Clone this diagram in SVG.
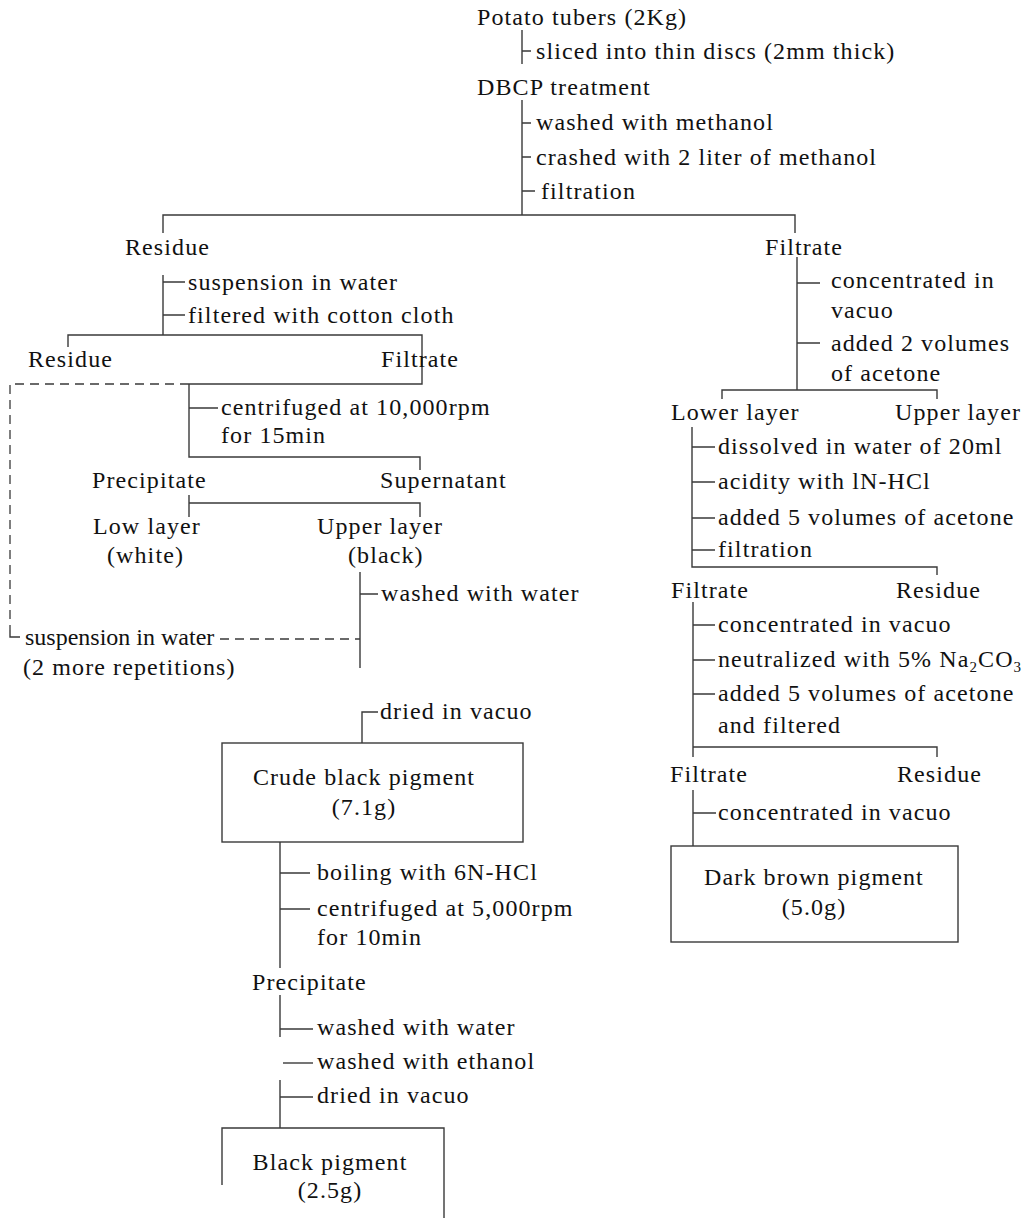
<svg xmlns="http://www.w3.org/2000/svg" width="1034" height="1218" viewBox="0 0 1034 1218">
<style>
text{font-family:"Liberation Serif","Times New Roman",serif;font-size:24px;fill:#111;letter-spacing:1.1px}
.c{text-anchor:middle}
.tight{letter-spacing:0}
.ln{fill:none;stroke:#3a3a3a;stroke-width:1.4}
.dash{fill:none;stroke:#3a3a3a;stroke-width:1.3;stroke-dasharray:9 6}
.sub{font-size:15px}
</style>
<rect width="1034" height="1218" fill="#fff"/>
<g id="connectors">
<path class="ln" d="M522,30V64M522,51H531"/>
<path class="ln" d="M522,100V215M522,123H531M522,157H531M522,191H535"/>
<path class="ln" d="M163,233V215H795V233"/>
<path class="ln" d="M163,275V335M163,282H185M163,315H185"/>
<path class="ln" d="M68,347V335H422V384H189"/>
<path class="dash" d="M189,384H10V630"/>
<path class="ln" d="M10,630V637H20"/>
<path class="ln" d="M189,384V457H420V470M189,408H218"/>
<path class="ln" d="M189,495V517M189,503H420V517"/>
<path class="ln" d="M360,572V668M360,594H378"/>
<path class="dash" d="M220,639H360"/>
<path class="ln" d="M362,743V712H378"/>
<path class="ln" d="M280,842V968M280,873H310M280,909H310"/>
<path class="ln" d="M280,995V1037M280,1029H313"/>
<path class="ln" d="M283,1063H313"/>
<path class="ln" d="M280,1080V1128M280,1097H313"/>
<path class="ln" d="M797,257V390M797,283H820M797,343H820"/>
<path class="ln" d="M722,399V390H937V399"/>
<path class="ln" d="M692,427V567H937V575M692,447H715M692,482H715M692,518H715M692,550H715"/>
<path class="ln" d="M693,602V757M693,747H937V757M693,625H715M693,660H715M693,694H715"/>
<path class="ln" d="M693,790V846M693,813H716"/>
</g>
<g id="n_potato"><text x="477" y="25">Potato tubers (2Kg)</text></g>
<g id="s_sliced"><text x="536" y="59">sliced into thin discs (2mm thick)</text></g>
<g id="n_dbcp"><text x="477" y="95">DBCP treatment</text></g>
<g id="s_washed_meoh"><text x="536" y="130">washed with methanol</text></g>
<g id="s_crashed"><text x="536" y="165">crashed with 2 liter of methanol</text></g>
<g id="s_filtration1"><text x="541" y="199">filtration</text></g>
<g id="n_residue1"><text x="125" y="255">Residue</text></g>
<g id="n_filtrate1"><text x="765" y="255">Filtrate</text></g>
<g id="s_susp1"><text x="188" y="290">suspension in water</text></g>
<g id="s_cotton"><text x="188" y="323">filtered with cotton cloth</text></g>
<g id="n_residue2"><text x="28" y="367">Residue</text></g>
<g id="n_filtrate2"><text x="381" y="367">Filtrate</text></g>
<g id="s_centri1"><text x="221" y="415">centrifuged at 10,000rpm</text><text x="221" y="443">for 15min</text></g>
<g id="n_precip1"><text x="92" y="488">Precipitate</text></g>
<g id="n_supernatant"><text x="380" y="488">Supernatant</text></g>
<g id="n_lowlayer"><text x="93" y="534">Low layer</text><text x="107" y="563">(white)</text></g>
<g id="n_upperlayer1"><text x="317" y="534">Upper layer</text><text x="348" y="563">(black)</text></g>
<g id="s_washed_w1"><text x="381" y="601">washed with water</text></g>
<g id="n_susp_rep"><text class="tight" x="25" y="645">suspension in water</text><text x="23" y="675">(2 more repetitions)</text></g>
<g id="s_dried1"><text x="380" y="719">dried in vacuo</text></g>
<g id="n_crude"><rect class="ln" x="222" y="743" width="301" height="99"/><text class="c" x="364" y="785">Crude black pigment</text><text class="c" x="364" y="815">(7.1g)</text></g>
<g id="s_boil"><text x="317" y="880">boiling with 6N-HCl</text></g>
<g id="s_centri2"><text x="317" y="916">centrifuged at 5,000rpm</text><text x="317" y="945">for 10min</text></g>
<g id="n_precip2"><text x="252" y="990">Precipitate</text></g>
<g id="s_washed_w2"><text x="317" y="1035">washed with water</text></g>
<g id="s_washed_etoh"><text x="317" y="1069">washed with ethanol</text></g>
<g id="s_dried2"><text x="317" y="1103">dried in vacuo</text></g>
<g id="n_black"><path class="ln" d="M222,1185V1128H444V1218"/><text class="c" x="330" y="1170">Black pigment</text><text class="c" x="330" y="1198">(2.5g)</text></g>
<g id="s_conc1"><text x="831" y="288">concentrated in</text><text x="831" y="318">vacuo</text></g>
<g id="s_added2"><text x="831" y="351">added 2 volumes</text><text x="831" y="381">of acetone</text></g>
<g id="n_lower"><text x="671" y="420">Lower layer</text></g>
<g id="n_upper2"><text x="895" y="420">Upper layer</text></g>
<g id="s_dissolved"><text x="718" y="454">dissolved in water of 20ml</text></g>
<g id="s_acidity"><text x="718" y="489">acidity with lN-HCl</text></g>
<g id="s_added5a"><text x="718" y="525">added 5 volumes of acetone</text></g>
<g id="s_filtration2"><text x="718" y="557">filtration</text></g>
<g id="n_filtrate3"><text x="671" y="598">Filtrate</text></g>
<g id="n_residue3"><text x="896" y="598">Residue</text></g>
<g id="s_conc2"><text x="718" y="632">concentrated in vacuo</text></g>
<g id="s_neutral"><text x="718" y="667">neutralized with 5% Na<tspan class="sub" dy="5">2</tspan><tspan dy="-5">CO</tspan><tspan class="sub" dy="5">3</tspan></text></g>
<g id="s_added5b"><text x="718" y="701">added 5 volumes of acetone</text><text x="718" y="733">and filtered</text></g>
<g id="n_filtrate4"><text x="670" y="782">Filtrate</text></g>
<g id="n_residue4"><text x="897" y="782">Residue</text></g>
<g id="s_conc3"><text x="718" y="820">concentrated in vacuo</text></g>
<g id="n_darkbrown"><rect class="ln" x="671" y="846" width="287" height="96"/><text class="c" x="814" y="885">Dark brown pigment</text><text class="c" x="814" y="915">(5.0g)</text></g>
</svg>
